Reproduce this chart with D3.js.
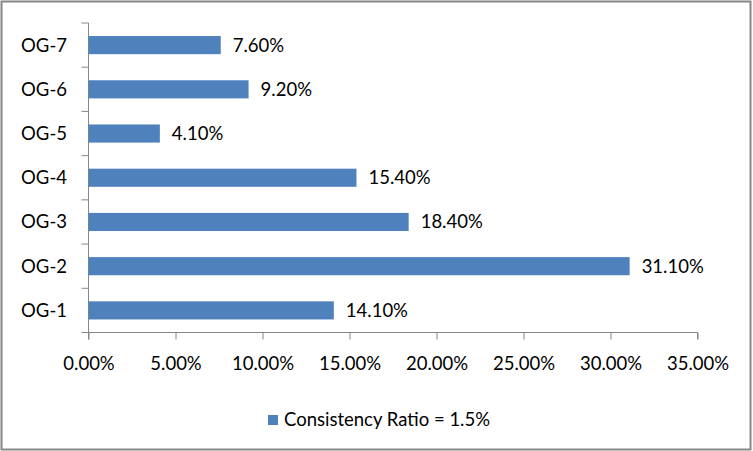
<!DOCTYPE html>
<html><head><meta charset="utf-8">
<script src="https://cdn.jsdelivr.net/npm/d3@7"></script>
<style>body{margin:0;background:#fff}svg{display:block}text{font-family:Lato,"Open Sans",sans-serif;fill:#000}</style>
</head><body>
<svg id="c" width="753" height="451"></svg>
<script>
const categories = ["OG-1","OG-2","OG-3","OG-4","OG-5","OG-6","OG-7"];
const values = [14.1, 31.1, 18.4, 15.4, 4.1, 9.2, 7.6];
const xTicks = [0,5,10,15,20,25,30,35];
const seriesName = "Consistency Ratio = 1.5%";

(function(){
const fs = 18.5;
const svg = d3.select("#c");
svg.append("rect").attr("x",1.5).attr("y",1.5).attr("width",749).attr("height",448)
  .attr("fill","#fff").attr("stroke","#868686").attr("stroke-width",2);

const pl = 88.5, pr = 697.5, pt = 23, pb = 332.5;
const x = d3.scaleLinear().domain([0,35]).range([pl,pr]);
const y = d3.scaleBand().domain(categories.slice().reverse()).range([pt,pb]).paddingInner(0.59).paddingOuter(0.295);
const yb = d3.scaleBand().domain(categories.slice().reverse()).range([pt,pb]);

// x axis
const xa = svg.append("g").attr("transform",`translate(0,${pb})`)
  .call(d3.axisBottom(x).tickValues(xTicks).tickSize(7).tickPadding(17).tickFormat(d=>d.toFixed(2)+"%"));
xa.selectAll("path,line").attr("stroke","#868686");
xa.select(".domain").attr("d",`M${pl},7V0H${pr}V7`);
xa.selectAll("text").attr("font-size",fs).attr("font-family","Lato").attr("fill","#000");

// y axis with ticks at band boundaries
const ya = svg.append("g");
ya.append("line").attr("x1",pl).attr("x2",pl).attr("y1",pt).attr("y2",pb).attr("stroke","#868686");
const bounds = categories.map(c=>yb(c)).concat([pb]);
ya.selectAll("line.t").data(bounds).join("line").attr("class","t")
  .attr("x1",pl-7).attr("x2",pl).attr("y1",d=>d).attr("y2",d=>d).attr("stroke","#868686");
ya.selectAll("text").data(categories).join("text")
  .attr("x",67).attr("y",d=>yb(d)+yb.bandwidth()/2).attr("dy","0.35em")
  .attr("text-anchor","end").attr("font-size",fs).text(d=>d);

// bars
const data = categories.map((c,i)=>({c,v:values[i]}));
svg.selectAll("rect.bar").data(data).join("rect").attr("class","bar")
  .attr("x",x(0)).attr("y",d=>y(d.c)).attr("width",d=>x(d.v)-x(0)).attr("height",y.bandwidth())
  .attr("fill","#4F81BD");
svg.selectAll("text.lbl").data(data).join("text").attr("class","lbl")
  .attr("x",d=>x(d.v)+12).attr("y",d=>y(d.c)+y.bandwidth()/2).attr("dy","0.35em")
  .attr("font-size",fs).text(d=>d.v.toFixed(2)+"%");

// legend
const lg = svg.append("g");
lg.append("rect").attr("x",268).attr("y",415).attr("width",10).attr("height",10).attr("fill","#4F81BD");
lg.append("text").attr("x",284).attr("y",420).attr("dy","0.35em").attr("font-size",fs).text(seriesName);
})();
</script>
</body></html>
